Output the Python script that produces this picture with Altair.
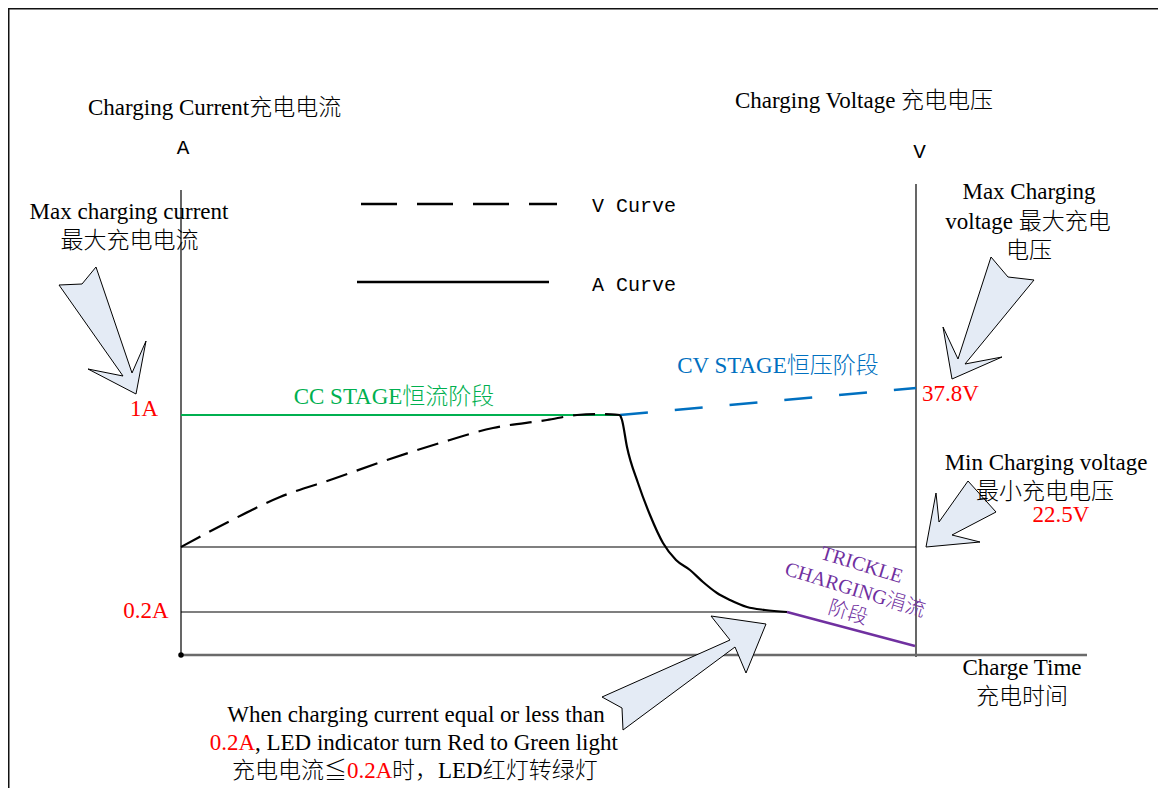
import altair as alt
import pandas as pd

# Chart units: x = charge time (0 at the current axis), y = level (0 at the time axis)
X_DOMAIN = [-173, 977]
Y_DOMAIN = [-133, 647]

# ---------------- curves ----------------
# Voltage curve during CC stage (black dashed)
v_cc_t = [0, 49, 99, 152, 206, 259, 312, 366, 396, 419, 439]
v_cc_y = [108, 134, 158, 176, 195, 212, 227, 235, 240, 241, 240]
# Voltage curve during CV stage (blue dashed)
v_cv_t = [439, 735]
v_cv_y = [240, 267]
# Current during CC stage (green, 1A)
a_cc_t = [0, 439]
a_cc_y = [240, 240]
# Current during CV stage (black solid)
a_cv_t = [439, 441, 446, 457, 469, 482, 495, 509, 522, 536, 549, 566, 584, 606]
a_cv_y = [240, 235, 208, 172, 140, 112, 95, 85, 73, 62, 55, 48, 45, 43]
# Trickle charging (purple)
trickle_t = [606, 636, 734]
trickle_y = [43, 35, 9]

# ---------------- guide segments ----------------
# thin black: current axis, voltage axis, 22.5V level, 0.2A level
thin_x = [0, 735, 0, 0]
thin_x2 = [0, 735, 735, 606]
thin_y = [0, -2, 108, 43]
thin_y2 = [465, 471, 108, 43]
# time axis (gray)
time_x, time_x2, time_y = [0], [906], [0]
# outer frame (top, left)
frame_x = [-173, -172.5]
frame_x2 = [977, -172.5]
frame_y = [646.5, -133]
frame_y2 = [646.5, 647]
# legend samples
leg_dash_t, leg_dash_y = [180, 376], [451, 451]
leg_solid_t, leg_solid_y = [176, 368], [373, 373]

# ---------------- texts ----------------
black_center = ["Max charging current", "最大充电电流", "Max Charging", "voltage 最大充电", "电压",
                "Min Charging voltage", "最小充电电压", "Charge Time", "充电时间",
                "When charging current equal or less than"]
black_center_x = [-52, -51.5, 848, 847, 848, 865, 864, 841, 841, 235]
black_center_y = [443, 414, 463, 433, 404, 192, 163, -13, -42, -60]

black_left = ["Charging Current充电电流", "Charging Voltage 充电电压",
              ", LED indicator turn Red to Green light", "时，LED红灯转绿灯"]
black_left_x = [-93, 554, 74, 211]
black_left_y = [546.6, 554, -88, -116]

black_right = ["充电电流≦"]
black_right_x = [166]
black_right_y = [-116]

red_center = ["1A", "22.5V", "0.2A"]
red_center_x = [-37, 880, -35]
red_center_y = [246, 140, 44]
red_left = ["37.8V", "0.2A"]
red_left_x = [741, 166]
red_left_y = [261, -116]
red_right = ["0.2A"]
red_right_x = [74]
red_right_y = [-88]

mono_center = ["A", "V"]
mono_center_x = [2, 738.5]
mono_center_y = [507, 503]
mono_left = ["V Curve", "A Curve"]
mono_left_x = [411, 411]
mono_left_y = [449, 370.5]

stage_labels = ["CC STAGE恒流阶段", "CV STAGE恒压阶段"]
stage_x = [213, 597]
stage_y = [258, 289]

trickle_labels = ["TRICKLE", "CHARGING涓流", "阶段"]
trickle_lx = [680.7, 674, 667]
trickle_ly = [90, 65, 42]

# ---------------- callout arrows (anchor = arrow tip) ----------------
arrow_x = [-45, 771, 745, 585]
arrow_y = [261, 276, 108, 31]
arrow_paths = [
    "M-77,-109 L-54,-110 L-40,-127 L-4,-21 L10,-53 L0,0 L-48,-25 L-13,-18 Z",
    "M39,-122 L56,-102 L82,-99 L13,-15 L50,-22 L0,0 L-9,-52 L6,-20 Z",
    "M0,0 L10,-54 L13,-25 L42,-66 L70,-35 L26,-12 L54,-5 Z",
    "M-164,73 L-36,16 L-55,-8 L0,0 L-20,49 L-31,23 L-143,106 L-144,84 Z",
]

SERIF = "Liberation Serif, Noto Sans CJK SC"
MONO = "Liberation Mono"
GREEN, BLUE, PURPLE, RED = "#00B050", "#0070C0", "#7030A0", "#FF0000"

XS = alt.Scale(domain=X_DOMAIN, nice=False, zero=False)
YS = alt.Scale(domain=Y_DOMAIN, nice=False, zero=False)


def X(f="x"):
    return alt.X(f + ":Q", scale=XS, axis=None)


def Y(f="y"):
    return alt.Y(f + ":Q", scale=YS, axis=None)


def line_layer(ts, ys, color, width, dash=None, interp="linear"):
    df = pd.DataFrame({"x": ts, "y": ys, "o": list(range(len(ts)))})
    kw = dict(color=color, strokeWidth=width, interpolate=interp)
    if dash:
        kw["strokeDash"] = dash
    return alt.Chart(df).mark_line(**kw).encode(x=X(), y=Y(), order="o:Q")


def rule_layer(xs, x2s, ys, y2s, color, width):
    df = pd.DataFrame({"x": xs, "x2": x2s, "y": ys, "y2": y2s})
    return alt.Chart(df).mark_rule(color=color, strokeWidth=width).encode(
        x=X(), x2=alt.X2("x2:Q"), y=Y(), y2=alt.Y2("y2:Q"))


def text_layer(labels, xs, ys, color, size, font, align, angle=0, weight=300):
    df = pd.DataFrame({"t": labels, "x": xs, "y": ys})
    return alt.Chart(df).mark_text(align=align, baseline="middle", color=color,
                                   fontSize=size, font=font, angle=angle,
                                   fontWeight=weight).encode(
        x=X(), y=Y(), text="t:N")


layers = []
# frame and guides
layers.append(rule_layer(frame_x, frame_x2, frame_y, frame_y2, "#111111", 2))
layers.append(rule_layer(thin_x, thin_x2, thin_y, thin_y2, "#000000", 1.2))
layers.append(rule_layer(time_x, time_x2, time_y, time_y, "#6a6a6a", 2.5))
# curves
layers.append(line_layer(a_cc_t, a_cc_y, GREEN, 2.2))
layers.append(line_layer(v_cc_t, v_cc_y, "#000000", 2.2, dash=[22, 10], interp="monotone"))
layers.append(line_layer(v_cv_t, v_cv_y, BLUE, 2.6, dash=[28, 27]))
layers.append(line_layer(a_cv_t, a_cv_y, "#000000", 2.2, interp="monotone"))
layers.append(line_layer(trickle_t, trickle_y, PURPLE, 2.4))
# legend samples
layers.append(line_layer(leg_dash_t, leg_dash_y, "#000000", 2.6, dash=[36, 20]))
layers.append(line_layer(leg_solid_t, leg_solid_y, "#000000", 2.6))
# origin dot
layers.append(alt.Chart(pd.DataFrame({"x": [0], "y": [0]})).mark_point(
    shape="circle", size=30, filled=True, color="#000000", opacity=1).encode(x=X(), y=Y()))
# callout arrows
for ax, ay, p in zip(arrow_x, arrow_y, arrow_paths):
    layers.append(alt.Chart(pd.DataFrame({"x": [ax], "y": [ay]})).mark_point(
        shape=p, size=4, filled=True, fill="#E4EBF5", stroke="#000000",
        strokeWidth=1, opacity=1).encode(x=X(), y=Y()))
# texts
layers.append(text_layer(black_center, black_center_x, black_center_y, "#000000", 23, SERIF, "center"))
layers.append(text_layer(black_left, black_left_x, black_left_y, "#000000", 23, SERIF, "left"))
layers.append(text_layer(black_right, black_right_x, black_right_y, "#000000", 23, SERIF, "right"))
layers.append(text_layer(red_center, red_center_x, red_center_y, RED, 23, SERIF, "center"))
layers.append(text_layer(red_left, red_left_x, red_left_y, RED, 23, SERIF, "left"))
layers.append(text_layer(red_right, red_right_x, red_right_y, RED, 23, SERIF, "right"))
layers.append(text_layer(mono_center, mono_center_x, mono_center_y, "#000000", 21, MONO, "center", weight=400))
layers.append(text_layer(mono_left, mono_left_x, mono_left_y, "#000000", 20, MONO, "left", weight=400))
layers.append(text_layer(stage_labels[:1], stage_x[:1], stage_y[:1], GREEN, 23, SERIF, "center"))
layers.append(text_layer(stage_labels[1:], stage_x[1:], stage_y[1:], BLUE, 23, SERIF, "center"))
layers.append(text_layer(trickle_labels, trickle_lx, trickle_ly, PURPLE, 20, SERIF, "center", angle=17))

chart = alt.layer(*layers).properties(
    width=1150, height=780, padding=0,
    autosize=alt.AutoSizeParams(type="none"), background="white",
).configure_view(stroke=None)

chart.save("out.html", embed_options={"renderer": "svg", "actions": False})
